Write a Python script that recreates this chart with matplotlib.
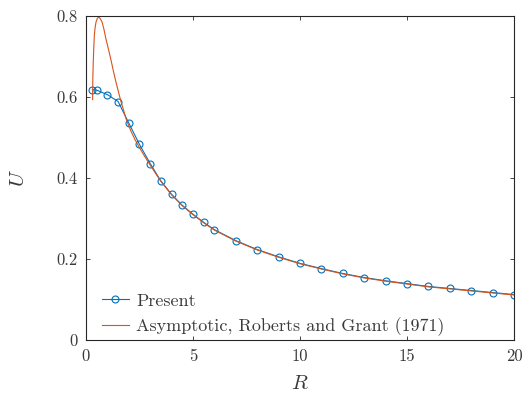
import matplotlib
matplotlib.use("Agg")
import matplotlib.pyplot as plt
from matplotlib.ticker import FuncFormatter

plt.rcParams['font.family'] = ['cmr10', 'DejaVu Serif']
plt.rcParams['mathtext.fontset'] = 'cm'
plt.rcParams['axes.formatter.use_mathtext'] = True

# Present (blue, circles)
present_R = [0.3, 0.5, 1.0, 1.5, 2.0, 2.5, 3.0, 3.5, 4.0, 4.5, 5.0, 5.5, 6.0,
             7, 8, 9, 10, 11, 12, 13, 14, 15, 16, 17, 18, 19, 20]
present_U = [0.617, 0.616, 0.605, 0.588, 0.535, 0.482, 0.435, 0.392, 0.359,
             0.332, 0.310, 0.290, 0.272, 0.245, 0.223, 0.205, 0.189, 0.176,
             0.164, 0.154, 0.146, 0.139, 0.132, 0.127, 0.122, 0.117, 0.112]

# Asymptotic, Roberts and Grant (1971) (orange)
asym_R = [0.31, 0.32, 0.34, 0.36, 0.39, 0.43, 0.47, 0.53, 0.59, 0.66, 0.75,
          0.84, 0.93, 1.05, 1.17, 1.28, 1.40, 1.52, 1.64, 1.76, 1.87, 2.0,
          2.1, 2.3, 2.5, 2.75, 3.0, 3.5, 4.0, 4.5, 5.0, 5.5, 6.0, 7, 8, 9,
          10, 11, 12, 13, 14, 15, 16, 17, 18, 19, 20]
asym_U = [0.593, 0.645, 0.685, 0.715, 0.751, 0.772, 0.784, 0.793, 0.796,
          0.793, 0.784, 0.766, 0.743, 0.717, 0.690, 0.663, 0.636, 0.611,
          0.587, 0.566, 0.546, 0.528, 0.515, 0.493, 0.474, 0.452, 0.431,
          0.391, 0.358, 0.331, 0.309, 0.289, 0.271, 0.244, 0.222, 0.204,
          0.188, 0.175, 0.163, 0.153, 0.145, 0.138, 0.131, 0.126, 0.121,
          0.116, 0.111]

fig = plt.figure(figsize=(5.23, 3.99), dpi=100)
ax = fig.add_axes([0.1644, 0.1479, 0.8184, 0.8132])

blue = '#0072BD'
orange = '#D95319'
textc = '#3a3a3a'

ax.plot(present_R, present_U, '-o', color=blue, lw=0.8, ms=5,
        markerfacecolor='none', markeredgewidth=0.8, label='Present')
ax.plot(asym_R, asym_U, '-', color=orange, lw=0.8,
        label='Asymptotic, Roberts and Grant (1971)')

ax.set_xlim(0, 20)
ax.set_ylim(0, 0.8)
ax.set_xticks([0, 5, 10, 15, 20])
ax.set_yticks([0, 0.2, 0.4, 0.6, 0.8])
ax.yaxis.set_major_formatter(FuncFormatter(lambda v, p: '0' if abs(v) < 1e-9 else f'{v:.1f}'))
ax.xaxis.set_major_formatter(FuncFormatter(lambda v, p: f'{int(round(v))}'))
ax.tick_params(direction='in', top=True, right=True, length=3, width=0.6,
               labelsize=12, color='#262626', labelcolor=textc, pad=6)
for s in ax.spines.values():
    s.set_linewidth(0.8)
    s.set_color('#262626')

ax.set_xlabel(r'$R$', fontsize=15, labelpad=8, color=textc)
ax.set_ylabel(r'$U$', fontsize=15, labelpad=20, color=textc)

leg = ax.legend(loc='lower left', bbox_to_anchor=(0.037, 0.012), frameon=False,
                fontsize=13, handlelength=1.5, borderaxespad=0, borderpad=0,
                labelspacing=0.48, handletextpad=0.4)
for t in leg.get_texts():
    t.set_color(textc)

fig.savefig('out.png', dpi=100)
